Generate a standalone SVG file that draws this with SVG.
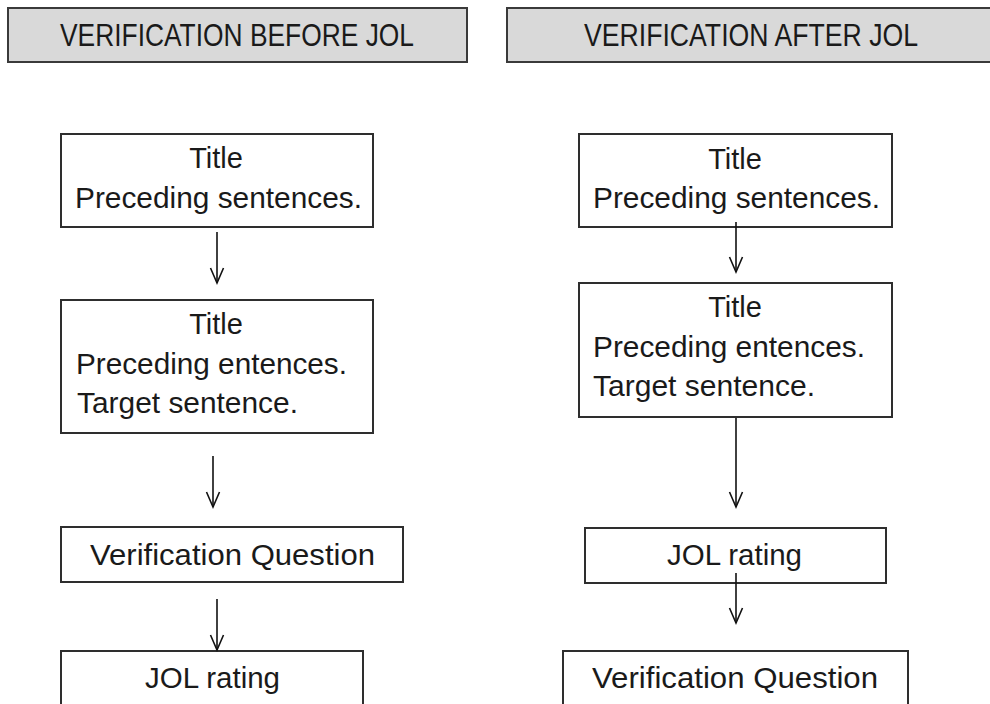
<svg xmlns="http://www.w3.org/2000/svg" width="990" height="704" viewBox="0 0 990 704">
<defs>
<style>
.hdr{fill:#d9d9d9;stroke:#3a3a3a;stroke-width:2}
.box{fill:#ffffff;stroke:#2e2e2e;stroke-width:2}
.t{font-family:"Liberation Sans",Arial,sans-serif;font-size:29px;fill:#1a1a1a}
.h{font-family:"Liberation Sans",Arial,sans-serif;font-size:31px;fill:#1a1a1a}
.c{text-anchor:middle}
.conn{stroke:#111;stroke-width:1.6;fill:none}
</style>
<marker id="v" markerUnits="userSpaceOnUse" markerWidth="20" markerHeight="20" refX="0" refY="0" orient="auto" viewBox="-10 -10 20 20" overflow="visible">
<path d="M-15,-6.5 L0,0 L-15,6.5" fill="none" stroke="#111" stroke-width="1.6"/>
</marker>
</defs>

<g id="header-before">
<rect class="hdr" x="8" y="8" width="459" height="54"/>
<text class="h" x="60" y="46" textLength="354" lengthAdjust="spacingAndGlyphs">VERIFICATION BEFORE JOL</text>
</g>
<g id="header-after">
<rect class="hdr" x="507" y="8" width="490" height="54"/>
<text class="h" x="584" y="46" textLength="334" lengthAdjust="spacingAndGlyphs">VERIFICATION AFTER JOL</text>
</g>

<g id="L1">
<rect class="box" x="61" y="134" width="312" height="93"/>
<text class="t c" x="216" y="168">Title</text>
<text class="t" x="75" y="208" textLength="287" lengthAdjust="spacingAndGlyphs">Preceding sentences.</text>
</g>
<g id="L2">
<rect class="box" x="61" y="300" width="312" height="133"/>
<text class="t c" x="216" y="334">Title</text>
<text class="t" x="76" y="374" textLength="271" lengthAdjust="spacingAndGlyphs">Preceding entences.</text>
<text class="t" x="77" y="413" textLength="221" lengthAdjust="spacingAndGlyphs">Target sentence.</text>
</g>
<g id="L3">
<rect class="box" x="61" y="527" width="342" height="55"/>
<text class="t" x="90" y="565" textLength="285" lengthAdjust="spacingAndGlyphs">Verification Question</text>
</g>
<g id="L4">
<rect class="box" x="61" y="651" width="302" height="70"/>
<text class="t" x="145" y="688" textLength="135" lengthAdjust="spacingAndGlyphs">JOL rating</text>
</g>

<g id="R1">
<rect class="box" x="579" y="134" width="313" height="93"/>
<text class="t c" x="735" y="169">Title</text>
<text class="t" x="593" y="208" textLength="287" lengthAdjust="spacingAndGlyphs">Preceding sentences.</text>
</g>
<g id="R2">
<rect class="box" x="579" y="283" width="313" height="134"/>
<text class="t c" x="735" y="317">Title</text>
<text class="t" x="593" y="357" textLength="272" lengthAdjust="spacingAndGlyphs">Preceding entences.</text>
<text class="t" x="593" y="396" textLength="222" lengthAdjust="spacingAndGlyphs">Target sentence.</text>
</g>
<g id="R3">
<rect class="box" x="585" y="528" width="301" height="55"/>
<text class="t" x="667" y="565" textLength="135" lengthAdjust="spacingAndGlyphs">JOL rating</text>
</g>
<g id="R4">
<rect class="box" x="563" y="651" width="345" height="70"/>
<text class="t" x="592" y="688" textLength="286" lengthAdjust="spacingAndGlyphs">Verification Question</text>
</g>

<g id="connectors">
<line class="conn" x1="217" y1="232" x2="217" y2="283" marker-end="url(#v)"/>
<line class="conn" x1="213" y1="456" x2="213" y2="507" marker-end="url(#v)"/>
<line class="conn" x1="217" y1="599" x2="217" y2="650" marker-end="url(#v)"/>
<line class="conn" x1="736" y1="222" x2="736" y2="272" marker-end="url(#v)"/>
<line class="conn" x1="736" y1="418" x2="736" y2="507" marker-end="url(#v)"/>
<line class="conn" x1="736" y1="573" x2="736" y2="623" marker-end="url(#v)"/>
</g>
</svg>
